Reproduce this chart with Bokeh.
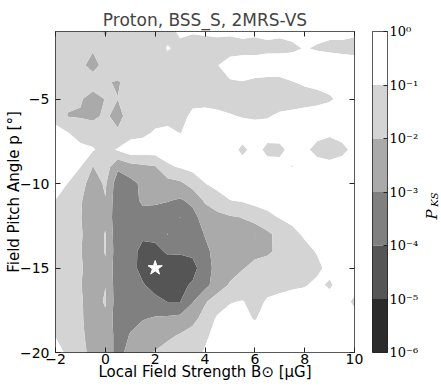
import numpy as np
from bokeh.plotting import figure
from bokeh.models import LinearAxis, FixedTicker, Label, CustomJSTickFormatter
from bokeh.layouts import row
from bokeh.embed import file_html
from bokeh.resources import INLINE

# ---------------- data ----------------
title_text = "Proton, BSS_S, 2MRS-VS"
x_label_text = "Local Field Strength B\u2299 [\u03bcG]"
y_label_text = "Field Pitch Angle p [\u00b0]"

# grid: local field strength B (muG) and pitch angle p (deg)
field_strength = [-2.0, -1.5, -1.0, -0.5, 0.0, 0.5, 1.0, 1.5, 2.0, 2.5, 3.0, 3.5, 4.0,
                  4.5, 5.0, 5.5, 6.0, 6.5, 7.0, 7.5, 8.0, 8.5, 9.0, 9.5, 10.0]
pitch_angle = [-1, -2, -3, -4, -5, -6, -7, -8, -9, -10,
               -11, -12, -13, -14, -15, -16, -17, -18, -19, -20]

# log10(P_KS) per pitch-angle row (values along field_strength)
log_pks_p01 = [-1.4, -1.5, -1.5, -1.6, -2.1, -1.6, -1.5, -1.4, -1.3, -1.2, -0.9, -0.95, -0.9, -0.85, -0.9, -0.85, -0.9, -0.85, -0.9, -0.85, -0.9, -0.85, -0.9, -0.85, -0.9]
log_pks_p02 = [-1.5, -1.6, -1.7, -1.9, -1.8, -1.6, -1.5, -1.4, -1.3, -0.95, -1.15, -1.25, -1.3, -1.3, -1.25, -1.2, -1.2, -1.15, -1.15, -1.1, -0.97, -1.05, -1.1, -1.15, -1.2]
log_pks_p03 = [-1.6, -1.7, -1.8, -2.3, -1.7, -1.6, -1.5, -1.4, -1.35, -1.3, -1.3, -1.25, -1.2, -1.02, -0.75, -0.7, -0.7, -0.65, -0.65, -0.7, -0.7, -0.7, -0.7, -0.7, -0.7]
log_pks_p04 = [-1.55, -1.6, -1.65, -1.55, -1.95, -2.05, -1.8, -1.6, -1.5, -1.4, -1.35, -1.3, -1.25, -1.2, -1.05, -1.02, -1.1, -1.15, -1.15, -1.02, -0.93, -0.88, -0.85, -0.8, -0.8]
log_pks_p05 = [-1.6, -1.8, -1.9, -2.4, -1.97, -1.99, -1.7, -1.5, -1.45, -1.4, -1.3, -1.2, -1.2, -1.25, -1.3, -1.35, -1.4, -1.35, -1.3, -1.25, -1.2, -1.15, -1.05, -0.9, -0.85]
log_pks_p06 = [-1.3, -2.05, -2.1, -2.2, -1.85, -2.3, -1.6, -1.4, -1.3, -1.3, -1.25, -0.85, -0.8, -0.85, -0.95, -1.05, -1.1, -1.05, -0.9, -0.85, -0.8, -0.75, -0.75, -0.7, -0.7]
log_pks_p07 = [-0.7, -0.98, -1.3, -1.5, -1.6, -1.87, -1.4, -1.2, -0.9, -0.8, -1.02, -0.8, -0.7, -0.6, -0.6, -0.6, -0.65, -0.7, -0.75, -0.7, -0.7, -0.7, -0.67, -0.6, -0.6]
log_pks_p08 = [-0.5, -0.6, -0.8, -0.9, -1.4, -0.9, -0.4, -0.5, -0.5, -0.5, -0.5, -0.5, -0.5, -0.6, -0.6, -1.2, -0.7, -1.2, -1.15, -0.8, -0.8, -1.3, -2.05, -1.3, -0.7]
log_pks_p09 = [-0.4, -0.6, -0.98, -2.02, -1.5, -2.8, -2.4, -2.2, -2.05, -1.15, -0.9, -0.7, -0.6, -0.5, -0.5, -0.6, -0.6, -0.7, -0.8, -1.02, -0.7, -0.6, -0.3, -0.5, -0.5]
log_pks_p10 = [-0.6, -1.02, -1.6, -2.5, -1.85, -3.6, -3.3, -2.8, -2.6, -2.4, -2.2, -1.6, -1.02, -0.7, -0.6, -0.55, -0.5, -0.5, -0.5, -0.6, -0.5, -0.45, -0.4, -0.4, -0.4]
log_pks_p11 = [-1.02, -1.4, -1.9, -2.6, -2.05, -3.7, -3.5, -2.8, -2.85, -2.95, -3.1, -2.8, -1.85, -1.4, -1.02, -0.9, -0.8, -0.7, -0.6, -0.5, -0.5, -0.45, -0.4, -0.4, -0.4]
log_pks_p12 = [-1.2, -1.5, -1.95, -2.6, -2.2, -3.7, -3.5, -3.4, -3.4, -3.5, -4.02, -3.3, -2.6, -2.3, -2.1, -1.97, -1.4, -1.2, -0.95, -0.8, -0.7, -0.6, -0.55, -0.5, -0.5]
log_pks_p13 = [-1.3, -1.6, -1.9, -2.5, -1.95, -3.7, -3.6, -3.8, -3.7, -2.98, -3.6, -3.5, -2.95, -2.7, -2.5, -2.4, -3.05, -2.2, -1.7, -1.2, -0.9, -0.8, -0.7, -0.6, -0.6]
log_pks_p14 = [-1.35, -1.6, -1.95, -2.5, -1.95, -3.6, -3.6, -4.3, -4.3, -3.85, -3.9, -3.8, -3.2, -2.7, -2.5, -2.4, -2.2, -2.15, -1.8, -1.5, -1.2, -0.95, -0.8, -0.7, -0.7]
log_pks_p15 = [-1.3, -1.6, -1.9, -2.4, -2.1, -3.65, -3.6, -4.35, -4.6, -4.5, -4.4, -4.3, -3.5, -2.6, -2.4, -2.05, -1.8, -1.6, -1.4, -1.2, -1.1, -1.15, -0.8, -0.7, -0.6]
log_pks_p16 = [-1.2, -1.5, -1.95, -2.5, -2.02, -3.6, -3.5, -3.9, -4.4, -4.4, -4.2, -3.9, -3.3, -2.5, -1.9, -1.6, -1.4, -1.3, -1.2, -1.1, -1.05, -0.85, -1.1, -0.7, -0.8]
log_pks_p17 = [-1.1, -1.4, -1.9, -2.4, -1.9, -3.6, -3.5, -3.4, -3.7, -4.02, -4.01, -3.05, -2.1, -1.5, -1.05, -0.95, -1.3, -0.9, -0.8, -0.75, -0.7, -0.7, -0.7, -0.8, -1.1]
log_pks_p18 = [-1.1, -1.3, -1.85, -2.5, -2.2, -3.6, -3.2, -3.05, -2.9, -2.8, -2.7, -2.3, -1.6, -0.85, -0.7, -0.8, -1.05, -0.7, -0.6, -0.6, -0.6, -0.6, -0.6, -0.6, -0.8]
log_pks_p19 = [-1.02, -1.3, -1.8, -2.4, -2.3, -3.4, -2.95, -2.6, -2.4, -2.2, -1.9, -1.6, -1.1, -0.8, -0.6, -0.6, -0.6, -0.6, -0.6, -0.6, -0.6, -0.6, -0.6, -0.6, -0.6]
log_pks_p20 = [-0.8, -1.1, -1.7, -2.3, -2.3, -3.4, -2.6, -2.2, -1.95, -1.6, -1.4, -1.2, -0.95, -0.7, -0.6, -0.6, -0.6, -0.6, -0.6, -0.6, -0.6, -0.6, -0.6, -0.6, -0.6]

# best-fit marker
best_B = [2.0]
best_p = [-15.0]

# contour levels (log10 P_KS) and their gray shades
levels_log = [-6, -5, -4, -3, -2, -1, 0]
band_colors = ["#2b2b2b", "#555555", "#808080", "#aaaaaa", "#d4d4d4", "#ffffff"]

x_ticks = [-2, 0, 2, 4, 6, 8, 10]
y_ticks = [-20, -15, -10, -5]

# ---------------- main figure ----------------
rows_top_down = [log_pks_p01, log_pks_p02, log_pks_p03, log_pks_p04, log_pks_p05,
                 log_pks_p06, log_pks_p07, log_pks_p08, log_pks_p09, log_pks_p10,
                 log_pks_p11, log_pks_p12, log_pks_p13, log_pks_p14, log_pks_p15,
                 log_pks_p16, log_pks_p17, log_pks_p18, log_pks_p19, log_pks_p20]
z = np.array(rows_top_down[::-1], dtype=float)
y = np.array(pitch_angle[::-1], dtype=float)
x = np.array(field_strength, dtype=float)

FONT = "DejaVu Sans"
H = 388
p = figure(width=364, height=H, x_range=(-2, 10), y_range=(-20, -1),
           output_backend="svg", toolbar_location=None,
           min_border_left=55, min_border_right=10, min_border_top=31, min_border_bottom=36)
p.title.text = title_text
p.title.align = "center"
p.title.text_font = FONT
p.title.text_font_size = "17px"
p.title.text_font_style = "normal"
p.title.standoff = 3
p.grid.visible = False
p.outline_line_color = "#222222"
p.background_fill_color = "white"
p.border_fill_color = "white"

p.contour(x=x, y=y, z=z, levels=levels_log, fill_color=band_colors, line_color=None)
p.scatter(best_B, best_p, marker="star", size=15, fill_color="white", line_color="white")

for ax, ticks in ((p.xaxis[0], x_ticks), (p.yaxis[0], y_ticks)):
    ax.ticker = FixedTicker(ticks=ticks, minor_ticks=[])
    ax.major_tick_in = 5
    ax.major_tick_out = 0
    ax.minor_tick_line_color = None
    ax.axis_line_color = None
    ax.major_tick_line_color = "#222222"
    ax.major_label_text_font = FONT
    ax.major_label_text_font_size = "14px"
    ax.major_label_text_color = "black"
    ax.axis_label_text_font = FONT
    ax.axis_label_text_font_size = "15px"
    ax.axis_label_text_font_style = "normal"
    ax.axis_label_text_color = "black"

p.xaxis.major_label_standoff = 1
p.xaxis.axis_label = x_label_text
p.xaxis.axis_label_standoff = -4
p.yaxis.major_label_standoff = 6
p.yaxis.axis_label = y_label_text
p.yaxis.axis_label_standoff = -6

blank = CustomJSTickFormatter(code="return '';")
top_ax = LinearAxis(ticker=FixedTicker(ticks=x_ticks, minor_ticks=[]), formatter=blank,
                    major_tick_in=5, major_tick_out=0, axis_line_color=None,
                    major_label_standoff=0, major_label_text_font_size="1px",
                    minor_tick_line_color=None, major_tick_line_color="#222222")
right_ax = LinearAxis(ticker=FixedTicker(ticks=y_ticks, minor_ticks=[]), formatter=blank,
                      major_tick_in=5, major_tick_out=0, axis_line_color=None,
                      major_label_standoff=0, major_label_text_font_size="1px",
                      minor_tick_line_color=None, major_tick_line_color="#222222")
p.add_layout(top_ax, "above")
p.add_layout(right_ax, "right")

# ---------------- colour bar ----------------
band_low = [10.0 ** v for v in levels_log[:-1]]
band_high = [10.0 ** v for v in levels_log[1:]]
cb_ticks = [10.0 ** v for v in levels_log]

cb = figure(width=57, height=H, x_range=(0, 1), y_range=(1e-6, 1), y_axis_type="log",
            y_axis_location="right", x_axis_location=None,
            output_backend="svg", toolbar_location=None,
            min_border_left=8, min_border_right=28, min_border_top=31, min_border_bottom=36)
cb.grid.visible = False
cb.outline_line_color = "#222222"
cb.quad(left=0, right=1, bottom=band_low, top=band_high, fill_color=band_colors, line_color=None)
cax = cb.yaxis[0]
cax.ticker = FixedTicker(ticks=cb_ticks, minor_ticks=[])
cax.formatter = CustomJSTickFormatter(code="""
const sup = {'-':'\u207b','0':'\u2070','1':'\u00b9','2':'\u00b2','3':'\u00b3','4':'\u2074',
             '5':'\u2075','6':'\u2076','7':'\u2077','8':'\u2078','9':'\u2079'};
const e = Math.round(Math.log10(tick)).toString();
return '10' + e.split('').map(c => sup[c]).join('');
""")
cax.major_tick_in = 4
cax.major_tick_out = 0
cax.major_tick_line_color = "#222222"
cax.minor_tick_line_color = None
cax.axis_line_color = None
cax.major_label_standoff = 2
cax.major_label_text_font = "DejaVu Serif"
cax.major_label_text_font_size = "13px"
cax.major_label_text_color = "black"

# ---------------- colour-bar title (P_KS) ----------------
lab = figure(width=20, height=H, x_range=(0, 1), y_range=(0, 1),
             x_axis_location=None, y_axis_location=None,
             output_backend="svg", toolbar_location=None,
             min_border_left=0, min_border_right=0, min_border_top=0, min_border_bottom=0)
lab.grid.visible = False
lab.outline_line_color = None
lab.add_layout(Label(x=10, y=138, x_units="screen", y_units="screen", text="P",
                     angle=90, angle_units="deg", text_align="center", text_baseline="middle",
                     text_font="DejaVu Serif", text_font_style="italic", text_font_size="15px",
                     text_color="black"))
lab.add_layout(Label(x=13, y=153, x_units="screen", y_units="screen", text="KS",
                     angle=90, angle_units="deg", text_align="center", text_baseline="middle",
                     text_font="DejaVu Serif", text_font_style="italic", text_font_size="10px",
                     text_color="black"))

layout = row(p, cb, lab, spacing=0)
open("out.html", "w").write(file_html(layout, INLINE))
